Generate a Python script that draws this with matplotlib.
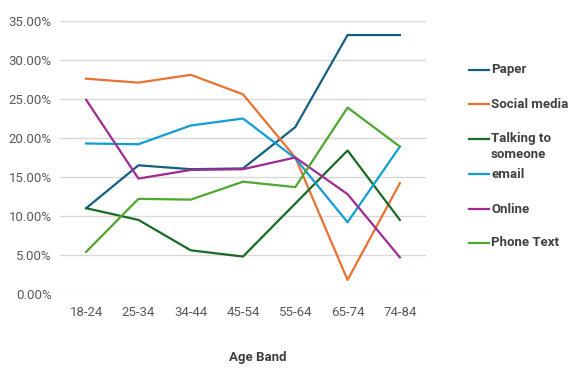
import matplotlib.pyplot as plt
from matplotlib.lines import Line2D
from matplotlib.ticker import FuncFormatter

age_bands = ["18-24", "25-34", "34-44", "45-54", "55-64", "65-74", "74-84"]
paper = [11.0, 16.5, 16.0, 16.1, 21.4, 33.2, 33.2]
social_media = [27.6, 27.1, 28.1, 25.6, 17.5, 1.8, 14.2]
talking = [11.0, 9.5, 5.6, 4.8, 11.6, 18.4, 9.5]
email = [19.3, 19.2, 21.6, 22.5, 17.4, 9.2, 18.9]
online = [24.9, 14.8, 15.9, 16.0, 17.5, 12.8, 4.7]
phone_text = [5.4, 12.2, 12.1, 14.4, 13.7, 23.9, 18.9]

series = [
    ("Paper", paper, "#156082"),
    ("Social media", social_media, "#E97132"),
    ("Talking to\nsomeone", talking, "#196B24"),
    ("email", email, "#0F9ED5"),
    ("Online", online, "#A02B93"),
    ("Phone Text", phone_text, "#4EA72E"),
]

plt.rcParams['font.family'] = ['Roboto', 'DejaVu Sans']

fig = plt.figure(figsize=(5.86, 3.8), dpi=100)
W, H = 586, 380
# plot area in pixels: left 60, right 426, top 21 (35%), bottom 294 (0%)
ax = fig.add_axes([60 / W, 1 - 294 / H, 366 / W, (294 - 21) / H])

x = list(range(len(age_bands)))
for name, vals, col in series:
    ax.plot(x, vals, color=col, lw=1.6)

ax.set_xlim(-0.5, len(age_bands) - 0.5)
ax.set_ylim(0, 35)
ax.set_yticks([0, 5, 10, 15, 20, 25, 30, 35])
ax.yaxis.set_major_formatter(FuncFormatter(lambda v, p: f"{v:.2f}%"))
ax.set_xticks(x)
ax.set_xticklabels(age_bands)
ax.grid(axis='y', color='#d9d9d9', lw=1)
ax.set_axisbelow(True)
for s in ax.spines.values():
    s.set_visible(False)
ax.tick_params(length=0, colors='#595959', labelsize=9.5, pad=6)
ax.tick_params(axis='x', pad=9)

fig.text(258 / W, 1 - 358 / H, "Age Band", ha='center', va='center',
         fontsize=9.5, fontweight='bold', color='#404040')

# legend by hand: entries equally spaced, the wrapped label runs down
leg_y = [70, 104, 139, 174, 209, 243]
for (name, vals, col), y in zip(series, leg_y):
    yf = 1 - y / H
    fig.add_artist(Line2D([469 / W, 489 / W], [yf, yf], color=col, lw=1.6))
    if '\n' in name:
        fig.text(491 / W, 1 - (y - 7) / H, name, ha='left', va='top',
                 fontsize=9.5, fontweight='bold', color='#404040', linespacing=1.35)
    else:
        fig.text(491 / W, yf, name, ha='left', va='center',
                 fontsize=9.5, fontweight='bold', color='#404040')

fig.savefig("out.png", dpi=100)
